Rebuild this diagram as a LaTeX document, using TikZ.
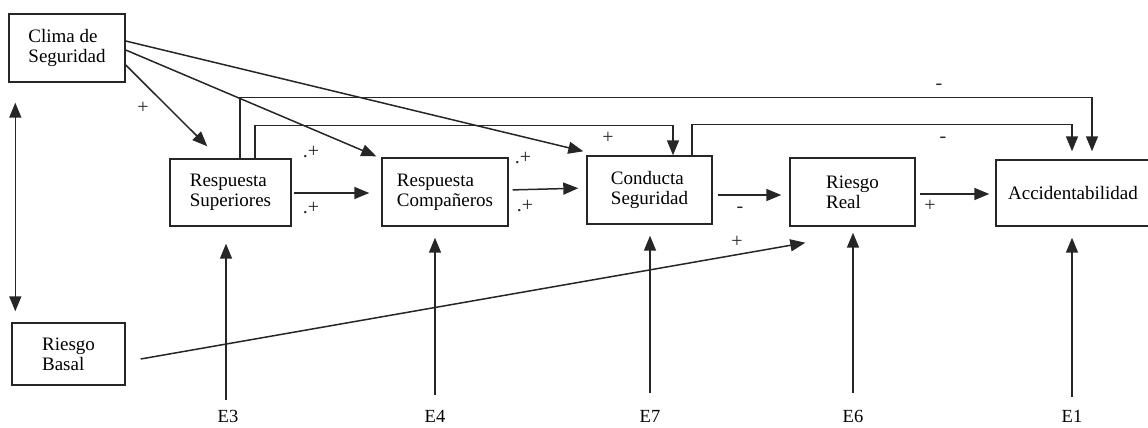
\documentclass[tikz,border=0pt]{standalone}
\usepackage{fontspec}
\setmainfont{Liberation Serif}
\usetikzlibrary{arrows.meta}
\definecolor{linec}{HTML}{262626}
\begin{document}
\begin{tikzpicture}[x=1pt,y=-1pt,
  box/.style={draw=linec, line width=1.4pt, rectangle, align=left,
    font=\fontsize{19}{20}\selectfont, inner sep=0pt},
  arr/.style={draw=linec, line width=1.5pt, -{Triangle[length=15pt,width=12pt]}},
  sign/.style={font=\fontsize{20}{20}\selectfont, inner sep=0pt, text=linec},
  elabel/.style={font=\fontsize{18.5}{20}\selectfont, anchor=base, inner sep=0pt}]
\useasboundingbox (0,0) rectangle (1148,428);

% boxes
\node[box, minimum width=116pt, minimum height=68pt] (clima) at (67,48) {Clima de\\Seguridad};
\node[box, minimum width=121pt, minimum height=67pt] (sup) at (230.5,192.5) {Respuesta\\Superiores};
\node[box, minimum width=126pt, minimum height=68pt] (comp) at (445,192) {Respuesta\\Compañeros};
\node[box, minimum width=125pt, minimum height=68pt] (cond) at (649.5,190) {Conducta\\Seguridad};
\node[box, minimum width=125pt, minimum height=68pt] (real) at (852.5,192) {Riesgo\\Real\hspace{14pt}};
\node[box, minimum width=154pt, minimum height=66pt] (accid) at (1073,193) {Accidentabilidad};
\node[box, minimum width=113pt, minimum height=62pt] (basal) at (68.5,354) {Riesgo\\Basal};

% error terms
\node[elabel] (e3) at (228,422.5) {E3};
\node[elabel] (e4) at (435,422.5) {E4};
\node[elabel] (e7) at (650,422.5) {E7};
\node[elabel] (e6) at (853,422.5) {E6};
\node[elabel] (e1) at (1072,422.5) {E1};

% error arrows
\draw[arr, shorten <=10pt, shorten >=17pt] ([xshift=-2pt]e3.north) -- ([xshift=-2pt]e3.north |- sup.south);
\draw[arr, shorten <=15pt, shorten >=11pt] (e4.north) -- (e4.north |- comp.south);
\draw[arr, shorten <=17pt, shorten >=11pt] (e7.north) -- (e7.north |- cond.south);
\draw[arr, shorten <=17pt, shorten >=6pt] (e6.north) -- (e6.north |- real.south);
\draw[arr, shorten <=13pt, shorten >=11pt] (e1.north) -- (e1.north |- accid.south);

% correlation between climate and basal risk
\draw[draw=linec, line width=1.5pt, {Triangle[length=15pt,width=12pt]}-{Triangle[length=15pt,width=12pt]},
  shorten <=20pt, shorten >=11pt]
  ([xshift=7pt]clima.south west) -- ([xshift=7pt]clima.south west |- basal.north);

% effects of safety climate
\draw[arr] ([yshift=-17pt]clima.east) -- ([xshift=38pt,yshift=12pt]sup.north west);
\draw[arr] ([yshift=-2pt]clima.east) -- ([xshift=-5pt,yshift=1pt]comp.north west);
\draw[arr] ([yshift=7pt]clima.east) -- ([xshift=-3pt,yshift=4pt]cond.north west);

% main chain
\draw[arr, shorten <=2pt, shorten >=12pt] ([yshift=-0.5pt]sup.east) -- ([yshift=-1pt]comp.west);
\draw[arr, shorten <=4pt, shorten >=8pt] ([yshift=2pt]comp.east) -- ([yshift=2pt]cond.west);
\draw[arr, shorten <=5pt, shorten >=8pt] ([yshift=-5pt]cond.east) -- ([yshift=-3pt]real.west);
\draw[arr, shorten <=4pt, shorten >=6pt] ([yshift=-2pt]real.east) -- ([yshift=-1pt]accid.west);

% basal risk to real risk
\draw[arr] ([xshift=15pt,yshift=-5pt]basal.east) -- ([xshift=16pt,yshift=-16pt]real.south west);

% feedback paths over the top
\draw[arr] ([xshift=9.5pt]sup.north) -- ++(0,-61) -| ([xshift=19pt,yshift=8pt]accid.north);
\draw[arr] ([xshift=24.5pt]sup.north) -- ++(0,-33) -| ([xshift=23.5pt]cond.north);
\draw[arr] ([xshift=42.5pt]cond.north) -- ++(0,-31) -| ([xshift=-1pt,yshift=8pt]accid.north);

% signs
\node[sign] (s1) at (143,108) {+};
\node[sign] (s2) at (311,152) {.+};
\node[sign] (s3) at (311,208) {.+};
\node[sign] (s4) at (523,158) {.+};
\node[sign] (s5) at (525,206) {.+};
\node[sign] (s6) at (608,138) {+};
\node[sign] (s7) at (740,210) {-};
\node[sign] (s8) at (930,206) {+};
\node[sign] (s9) at (939,87) {-};
\node[sign] (s10) at (943,140) {-};
\node[sign] (s11) at (737,242) {+};
\end{tikzpicture}
\end{document}
